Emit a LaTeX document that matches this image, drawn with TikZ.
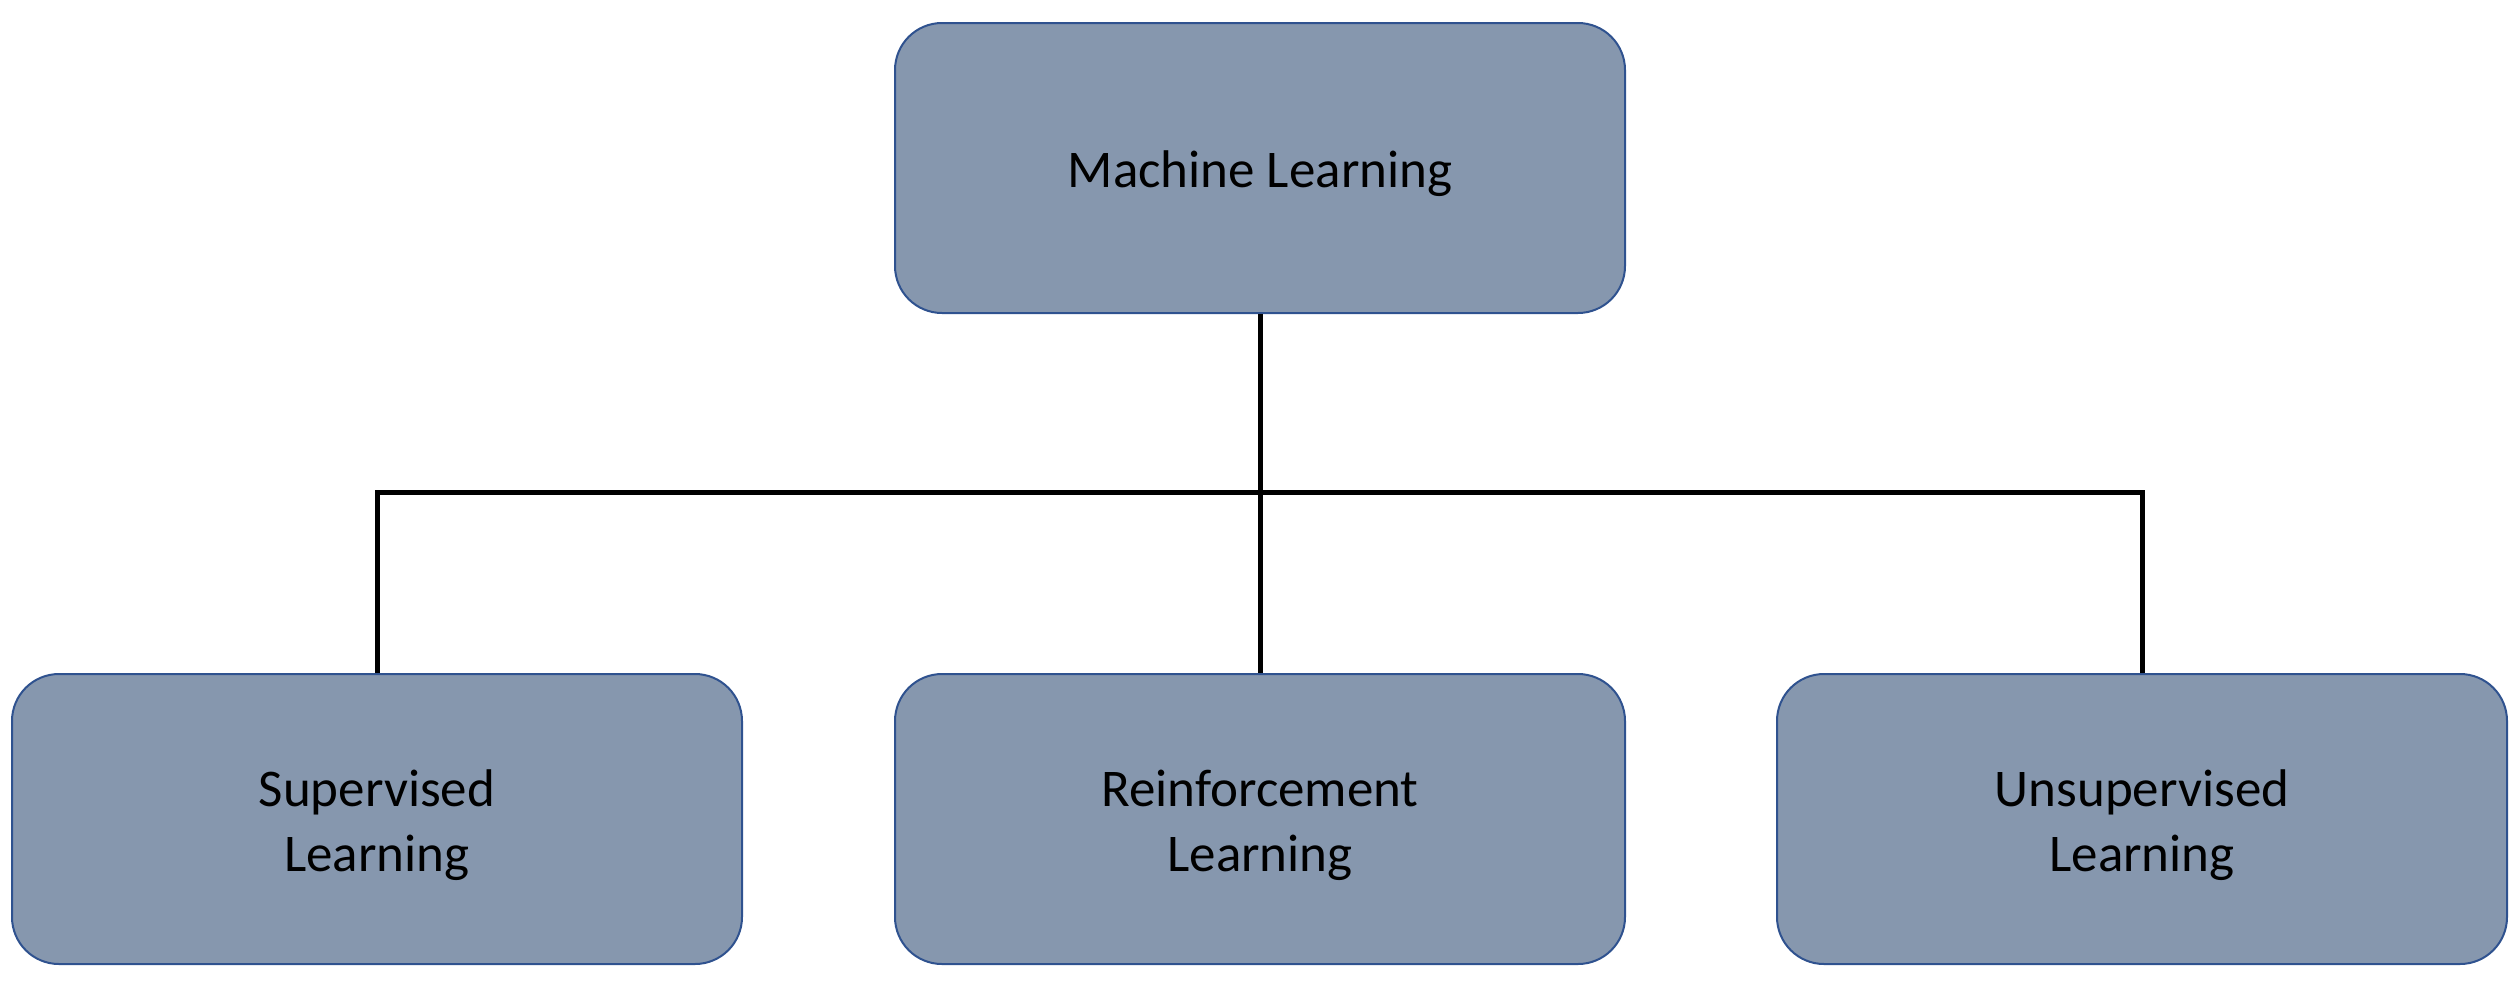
\documentclass[tikz,border=0pt]{standalone}
\usepackage{fontspec}
\setmainfont{Carlito}
\definecolor{boxfill}{HTML}{8697AE}
\definecolor{boxline}{HTML}{2F528F}
\begin{document}
\begin{tikzpicture}[x=1pt,y=-1pt,
  mlbox/.style={draw=boxline, line width=2pt, fill=boxfill, rounded corners=47pt,
    minimum width=730pt, minimum height=290pt, inner sep=0pt},
  mltext/.style={inner sep=0pt, align=center,
    font=\fontsize{53}{65}\selectfont, text=black},
  conn/.style={draw=black, line width=5pt}]
\useasboundingbox (0,0) rectangle (2520,986);
\node[mlbox] (ml) at (1260,168) {};
\node[mlbox] (sl) at (377,819) {};
\node[mlbox] (rl) at (1260,819) {};
\node[mlbox] (ul) at (2142,819) {};
\node[mltext] (mlt) at ([yshift=-6pt]ml.center) {Machine Learning};
\node[mltext] (slt) at ([yshift=-6pt]sl.center) {Supervised\\Learning};
\node[mltext] (rlt) at ([yshift=-6pt]rl.center) {Reinforcement\\Learning};
\node[mltext] (ult) at ([yshift=-6pt]ul.center) {Unsupervised\\Learning};
\coordinate (bus) at (1260,492);
\draw[conn] (ml.south) -- (rl.north);
\draw[conn] (sl.north) |- (bus);
\draw[conn] (ul.north) |- (bus);
\draw[conn] (sl.north |- bus) -- (ul.north |- bus);
\end{tikzpicture}
\end{document}
